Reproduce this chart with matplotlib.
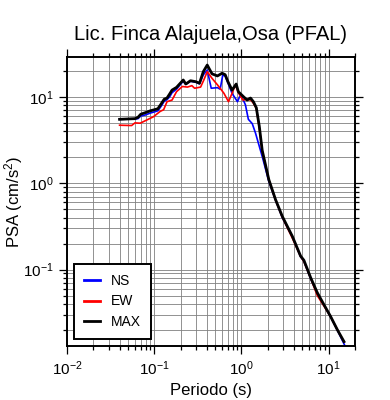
import numpy as np
import matplotlib
matplotlib.use("Agg")
import matplotlib.pyplot as plt

plt.rcParams['font.family'] = ['Liberation Sans', 'DejaVu Sans']
plt.rcParams['mathtext.default'] = 'regular'

# Periodo (s) y PSA (cm/s^2)
t_ns = [0.040, 0.060, 0.065, 0.070, 0.080, 0.090, 0.100, 0.110, 0.120, 0.130,
        0.140, 0.150, 0.160, 0.180, 0.200, 0.215, 0.230, 0.260, 0.300, 0.330,
        0.365, 0.405, 0.450, 0.530, 0.570, 0.610, 0.650, 0.700, 0.780, 0.900,
        0.970, 1.050, 1.110, 1.200, 1.330, 1.450, 1.730, 2.060, 2.460, 2.940,
        3.830, 4.770, 5.200, 6.200, 7.400, 8.800, 10.50, 12.60, 15.30]
psa_ns = [5.5, 5.55, 5.6, 6.0, 6.2, 6.5, 6.7, 6.9, 7.8, 8.9,
          9.3, 10.0, 11.2, 12.3, 14.0, 15.2, 14.0, 15.2, 14.8, 14.2,
          18.0, 20.5, 12.6, 12.8, 12.3, 17.9, 17.5, 14.5, 11.0, 8.8,
          10.5, 9.2, 8.1, 5.5, 4.9, 3.8, 2.04, 1.05, 0.64, 0.40,
          0.24, 0.141, 0.125, 0.079, 0.053, 0.039, 0.0285, 0.0198, 0.0132]

t_ew = [0.040, 0.055, 0.060, 0.069, 0.082, 0.098, 0.117, 0.128, 0.140, 0.160,
        0.180, 0.210, 0.240, 0.270, 0.290, 0.340, 0.370, 0.405, 0.460, 0.550,
        0.630, 0.710, 0.780, 0.850, 0.930, 1.040, 1.160, 1.280, 1.370, 1.480,
        1.600, 1.730, 2.060, 2.460, 2.940, 3.830, 4.770, 5.200, 6.200, 7.400,
        8.800, 10.50, 12.60, 15.00]
psa_ew = [4.7, 4.66, 5.0, 4.96, 5.4, 5.9, 6.8, 7.1, 8.8, 9.2,
          11.5, 13.2, 13.0, 13.5, 12.6, 13.0, 15.7, 19.6, 16.4, 13.2,
          11.0, 8.8, 11.0, 13.8, 11.0, 9.2, 9.4, 9.2, 8.45, 7.4,
          4.4, 2.35, 1.09, 0.64, 0.405, 0.232, 0.142, 0.124, 0.080, 0.050,
          0.038, 0.0287, 0.020, 0.0145]

t_max = [0.040, 0.060, 0.065, 0.070, 0.080, 0.090, 0.100, 0.110, 0.120, 0.130,
         0.140, 0.150, 0.160, 0.180, 0.200, 0.215, 0.230, 0.260, 0.300, 0.330,
         0.365, 0.405, 0.430, 0.460, 0.530, 0.600, 0.650, 0.700, 0.780, 0.870,
         0.920, 1.050, 1.160, 1.270, 1.370, 1.480, 1.600, 1.730, 2.060, 2.460,
         2.940, 3.830, 4.770, 5.200, 6.200, 7.400, 8.800, 10.50, 12.60, 15.00]
psa_max = [5.5, 5.6, 5.8, 6.3, 6.6, 6.9, 7.1, 7.3, 8.3, 9.4,
           9.7, 10.8, 12.0, 12.9, 14.5, 15.7, 14.1, 15.4, 15.0, 14.4,
           19.6, 23.4, 20.9, 18.5, 17.5, 18.8, 18.1, 15.0, 12.0, 14.1,
           11.5, 10.1, 9.2, 9.7, 8.8, 7.5, 4.6, 2.4, 1.1, 0.645,
           0.413, 0.243, 0.143, 0.128, 0.081, 0.054, 0.0394, 0.0287, 0.020, 0.0146]

fig = plt.figure(figsize=(3.9, 4.0), dpi=100)
ax = fig.add_axes([0.172, 0.135, 0.738, 0.7225])

ax.plot(t_ns, psa_ns, color='blue', lw=1.2, label='NS')
ax.plot(t_ew, psa_ew, color='red', lw=1.2, label='EW')
ax.plot(t_max, psa_max, color='black', lw=2.0, label='MAX')

ax.set_xscale('log')
ax.set_yscale('log')
ax.set_xlim(0.01, 20)
ax.set_ylim(0.013, 29)

ax.grid(True, which='both', color='#808080', lw=0.6)
ax.set_axisbelow(True)
for s in ax.spines.values():
    s.set_linewidth(1.4)
ax.tick_params(which='both', direction='out', top=True, right=True,
               labelsize=11, width=0.9)
ax.tick_params(which='major', length=6)
ax.tick_params(which='minor', length=3)

ax.set_xlabel('Periodo (s)', fontsize=12)
ax.set_ylabel('PSA (cm/s$^2$)', fontsize=12)
ax.yaxis.set_label_coords(-0.145, 0.5)
ax.set_title('Lic. Finca Alajuela,Osa (PFAL)', fontsize=14.5, pad=12)

leg = ax.legend(loc='lower left', bbox_to_anchor=(0.024, 0.024), borderaxespad=0,
                fontsize=10, fancybox=False, framealpha=1, edgecolor='black',
                handlelength=1.1, handletextpad=0.8, labelspacing=0.45,
                borderpad=0.75)
leg.get_frame().set_linewidth(1.4)
for h in leg.get_lines():
    h.set_linewidth(2.0)

fig.savefig('out.png', dpi=100)
